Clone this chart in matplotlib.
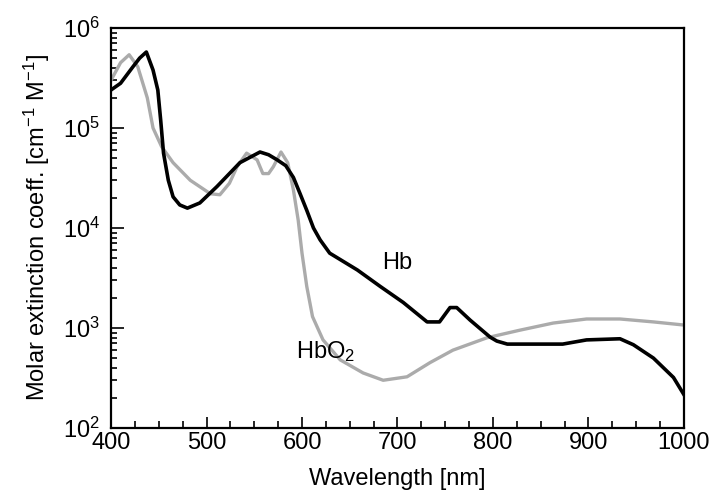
import numpy as np
import matplotlib
matplotlib.use('Agg')
import matplotlib.pyplot as plt
from matplotlib.ticker import FixedLocator, NullFormatter, LogLocator

plt.rcParams['font.family'] = ['Liberation Sans', 'DejaVu Sans']
plt.rcParams['mathtext.fontset'] = 'custom'
plt.rcParams['mathtext.rm'] = 'Liberation Sans'
plt.rcParams['mathtext.it'] = 'Liberation Sans:italic'
plt.rcParams['mathtext.bf'] = 'Liberation Sans:bold'
plt.rcParams['mathtext.default'] = 'regular'

# deoxy-haemoglobin (Hb), values
hb_wl = [400, 410, 423, 430, 437, 444, 449, 452, 455, 460, 465, 472, 480, 493,
         511, 535, 556, 565, 574, 583, 591, 598, 605, 612, 619, 629, 658, 682,
         706, 731, 744, 755, 762, 776, 797, 804, 815, 873, 898, 933, 947, 968,
         989, 1000]
hb_eps = [2.4e5, 2.8e5, 4.1e5, 5.0e5, 5.75e5, 3.8e5, 2.4e5, 1.2e5, 5.6e4, 3.0e4,
          2.05e4, 1.7e4, 1.58e4, 1.78e4, 2.6e4, 4.5e4, 5.75e4, 5.4e4, 4.8e4,
          4.2e4, 3.2e4, 2.2e4, 1.5e4, 1.0e4, 7.6e3, 5.6e3, 3.8e3, 2.6e3, 1.8e3,
          1.15e3, 1.15e3, 1.6e3, 1.6e3, 1.2e3, 810, 740, 690, 690, 760, 780,
          680, 500, 320, 215]

# oxy-haemoglobin (HbO2)
hbo2_wl = [400, 410, 419, 428, 438, 444, 453, 465, 483, 504, 514, 524, 532, 542,
           553, 559, 565, 570, 578, 585, 591, 596, 600, 605, 611, 622, 640, 664,
           685, 710, 734, 758, 794, 828, 863, 898, 933, 968, 1000]
hbo2_eps = [3.0e5, 4.5e5, 5.4e5, 4.1e5, 2.0e5, 1.0e5, 6.5e4, 4.5e4, 3.0e4,
            2.2e4, 2.15e4, 2.8e4, 4.1e4, 5.6e4, 4.8e4, 3.5e4, 3.5e4, 4.1e4,
            5.75e4, 4.5e4, 2.4e4, 1.2e4, 5.6e3, 2.6e3, 1.3e3, 760, 480, 355,
            300, 325, 450, 600, 800, 950, 1120, 1230, 1230, 1150, 1070]

x_ticks = [400, 500, 600, 700, 800, 900, 1000]
y_ticks = [1e2, 1e3, 1e4, 1e5, 1e6]
y_labels = ['10$^{2}$', '10$^{3}$', '10$^{4}$', '10$^{5}$', '10$^{6}$']

fig = plt.figure(figsize=(7.13, 4.98), dpi=100)
ax = fig.add_axes([0.1557, 0.1406, 0.8036, 0.8032])

ax.plot(hbo2_wl, hbo2_eps, color='#ababab', lw=2.4)
ax.plot(hb_wl, hb_eps, color='black', lw=2.6)

ax.set_yscale('log')
ax.set_xlim(400, 1000)
ax.set_ylim(1e2, 1e6)

ax.xaxis.set_major_locator(FixedLocator(x_ticks))
ax.xaxis.set_minor_locator(FixedLocator(np.arange(400, 1001, 25)))
ax.set_xticklabels([str(t) for t in x_ticks])
ax.yaxis.set_major_locator(FixedLocator(y_ticks))
ax.set_yticklabels(y_labels)
ax.yaxis.set_minor_locator(LogLocator(base=10, subs=np.arange(2, 10)))
ax.yaxis.set_minor_formatter(NullFormatter())

ax.tick_params(which='both', direction='in', top=False, right=False,
               labelsize=17, width=1.2)
ax.tick_params(axis='x', which='major', length=8, pad=3)
ax.tick_params(axis='x', which='minor', length=5)
ax.tick_params(axis='y', which='major', length=9, pad=8)
ax.tick_params(axis='y', which='minor', length=4)

for s in ax.spines.values():
    s.set_linewidth(1.6)

ax.set_xlabel('Wavelength [nm]', fontsize=17, labelpad=10)
ax.set_ylabel('Molar extinction coeff. [cm$^{-1}$ M$^{-1}$]', fontsize=17,
              labelpad=8)

ax.text(684, 4.5e3, 'Hb', fontsize=17, ha='left', va='center')
ax.text(594, 575, 'HbO$_2$', fontsize=17, ha='left', va='center')

fig.savefig('out.png', dpi=100)
